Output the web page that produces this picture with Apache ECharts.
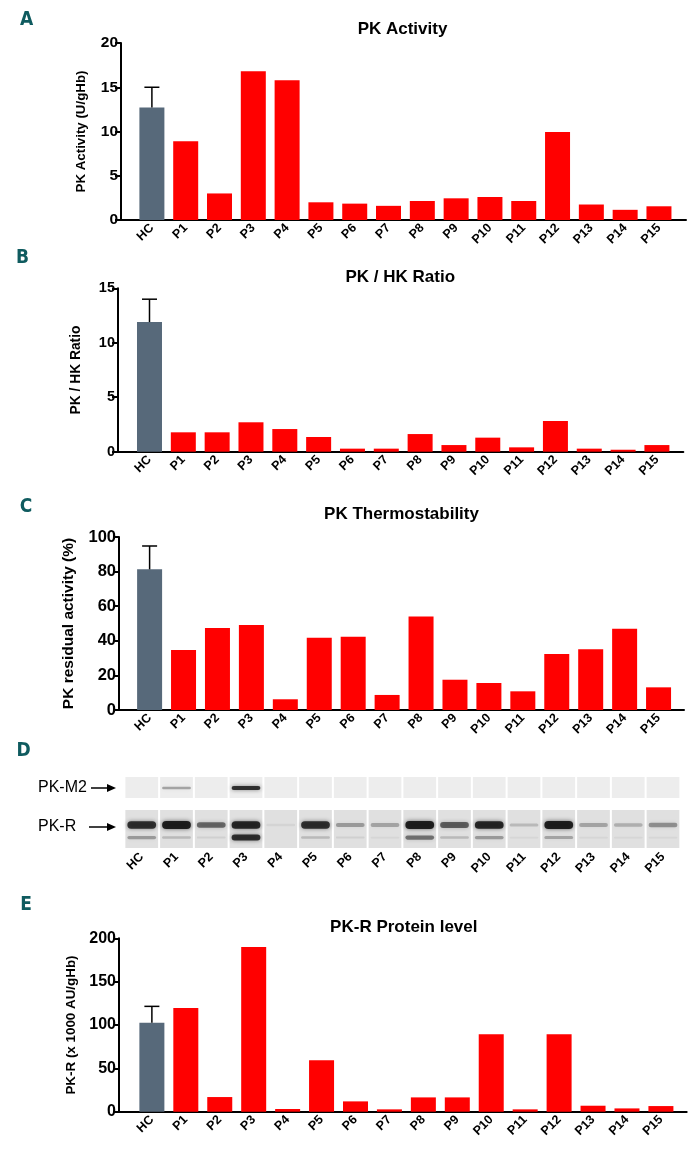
<!DOCTYPE html>
<html>
<head>
<meta charset="utf-8">
<script src="https://cdn.jsdelivr.net/npm/echarts@6.0.0/dist/echarts.min.js"></script>
<style>
html,body{margin:0;padding:0;background:#fff;}
#chart{width:698px;height:1151px;}
</style>
</head>
<body>
<div id="chart"></div>
<script>
// ---------------- DATA ----------------
const categories = ['HC','P1','P2','P3','P4','P5','P6','P7','P8','P9','P10','P11','P12','P13','P14','P15'];

const pkActivity   = [12.7, 8.9, 3.0, 16.8, 15.8, 2.0, 1.85, 1.6, 2.15, 2.45, 2.6, 2.15, 9.95, 1.75, 1.15, 1.55];
const pkActivityErr = 15.0;   // HC mean + SD

const pkHkRatio    = [11.9, 1.78, 1.78, 2.7, 2.08, 1.35, 0.28, 0.28, 1.62, 0.61, 1.29, 0.4, 2.82, 0.28, 0.18, 0.61];
const pkHkRatioErr = 14.0;

const thermo       = [81.3, 34.7, 47.4, 49.1, 6.2, 41.8, 42.4, 8.7, 54.0, 17.5, 15.6, 10.8, 32.4, 35.1, 47.0, 13.1];
const thermoErr    = 94.8;

const proteinLevel = [102.7, 119.6, 16.9, 190, 3.1, 59.2, 11.9, 2.7, 16.5, 16.5, 89.2, 2.7, 89.2, 6.9, 3.8, 6.5];
const proteinErr   = 121.5;

const ticksA = [0, 5, 10, 15, 20];
const ticksB = [0, 5, 10, 15];
const ticksC = [0, 20, 40, 60, 80, 100];
const ticksE = [0, 50, 100, 150, 200];

// western blot band intensities (0..1)
const blotM2    = [0, 0.35, 0, 0.9, 0, 0, 0, 0, 0, 0, 0, 0, 0, 0, 0, 0];
const blotRUp   = [0.9, 1.0, 0.6, 0.95, 0.06, 0.9, 0.35, 0.3, 1.0, 0.65, 0.95, 0.2, 1.0, 0.3, 0.25, 0.4];
const blotRLow  = [0.35, 0.2, 0.08, 0.9, 0, 0.2, 0.08, 0.05, 0.55, 0.2, 0.35, 0.05, 0.3, 0.05, 0.05, 0.05];

// ---------------- LAYOUT ----------------
const FONT = '"Liberation Sans", Arial, sans-serif';
const RED = '#ff0000';
const GREY = '#57697a';
const TEAL = '#0f5b5f';

const panels = [
  {values: pkActivity, err: pkActivityErr, ticks: ticksA, name: 'PK Activity (U/gHb)', title: 'PK Activity',
   left: 121, end: 686, top: 43, zero: 220, xMin: -0.914, xMax: 15.8, nameFs: 13.3, nameGap: 33, tickFs: 15.5,
   titleX: 402.5, titleY: 29},
  {values: pkHkRatio, err: pkHkRatioErr, ticks: ticksB, name: 'PK / HK Ratio', title: 'PK / HK Ratio',
   left: 118, end: 683.3, top: 288.3, zero: 451.7, xMin: -0.931, xMax: 15.78, nameFs: 13.8, nameGap: 35, tickFs: 14.5,
   titleX: 400.3, titleY: 277},
  {values: thermo, err: thermoErr, ticks: ticksC, name: 'PK residual activity (%)', title: 'PK Thermostability',
   left: 119, end: 684, top: 537, zero: 710, xMin: -0.902, xMax: 15.75, nameFs: 15.5, nameGap: 42, tickFs: 16.5,
   titleX: 401.5, titleY: 514},
  {values: proteinLevel, err: proteinErr, ticks: ticksE, name: 'PK-R (x 1000 AU/gHb)', title: 'PK-R Protein level',
   left: 119, end: 686.7, top: 938.3, zero: 1111.7, xMin: -0.969, xMax: 15.76, nameFs: 13.4, nameGap: 41, tickFs: 16,
   titleX: 403.8, titleY: 927}
];

const idx = categories.map((c, i) => i);
const grids = [], xAxes = [], yAxes = [], series = [];

panels.forEach((p, k) => {
  grids.push({left: p.left, top: p.top, width: p.end - p.left, height: p.zero - p.top, containLabel: false});
  xAxes.push({
    type: 'value', gridIndex: k, min: p.xMin, max: p.xMax,
    axisLine: {show: true, onZero: false, lineStyle: {color: '#000', width: 2}},
    axisTick: {show: false},
    splitLine: {show: false},
    axisLabel: {
      customValues: idx, rotate: 45, margin: 6, color: '#000', fontWeight: 'bold', fontSize: 12.5, fontFamily: FONT,
      formatter: v => categories[Math.round(v)]
    }
  });
  const step = p.ticks[1] - p.ticks[0];
  yAxes.push({
    type: 'value', gridIndex: k, min: p.ticks[0], max: p.ticks[p.ticks.length - 1], interval: step,
    name: p.name, nameLocation: 'middle', nameGap: p.nameGap, nameRotate: 90,
    nameTextStyle: {color: '#000', fontWeight: 'bold', fontSize: p.nameFs, fontFamily: FONT},
    axisLine: {show: true, onZero: false, lineStyle: {color: '#000', width: 2}},
    axisTick: {show: true, length: 6, lineStyle: {color: '#000', width: 2}},
    splitLine: {show: false},
    axisLabel: {color: '#000', fontWeight: 'bold', fontSize: p.tickFs, fontFamily: FONT, margin: 3}
  });
  series.push({
    type: 'bar', xAxisIndex: k, yAxisIndex: k, barWidth: 25, silent: true,
    data: p.values.map((v, i) => ({value: [i, v], itemStyle: {color: i === 0 ? GREY : RED}})),
    animation: false
  });
  series.push({
    type: 'custom', xAxisIndex: k, yAxisIndex: k, silent: true, animation: false, z: 5,
    data: [[0, p.values[0], p.err]],
    renderItem: (params, api) => {
      const a = api.coord([api.value(0), api.value(1)]);
      const b = api.coord([api.value(0), api.value(2)]);
      return {type: 'group', children: [
        {type: 'line', shape: {x1: a[0], y1: a[1], x2: b[0], y2: b[1]}, style: {stroke: '#000', lineWidth: 1.5}},
        {type: 'line', shape: {x1: b[0] - 7.5, y1: b[1], x2: b[0] + 7.5, y2: b[1]}, style: {stroke: '#000', lineWidth: 1.5}}
      ]};
    }
  });
});

// ---- blot panel (D) ----
const blotGrid = grids.length;
grids.push({left: 100, top: 777, width: 590, height: 71, containLabel: false});
xAxes.push({
  type: 'value', gridIndex: blotGrid, min: -1.2014, max: 15.777,
  axisLine: {show: false}, axisTick: {show: false}, splitLine: {show: false},
  axisLabel: {customValues: idx, rotate: 45, margin: 7, color: '#000', fontWeight: 'bold', fontSize: 12.5, fontFamily: FONT,
    formatter: v => categories[Math.round(v)]}
});
yAxes.push({type: 'value', gridIndex: blotGrid, min: 0, max: 71, inverse: true, show: false, splitLine: {show: false}});
series.push({
  type: 'custom', xAxisIndex: blotGrid, yAxisIndex: blotGrid, silent: true, animation: false,
  data: idx.map(i => [i, blotM2[i], blotRUp[i], blotRLow[i]]),
  renderItem: (params, api) => {
    const i = api.value(0);
    const cx = api.coord([i, 0])[0];
    const w = api.size([1, 0])[0] - 2;
    const y = v => api.coord([i, v])[1];
    const ch = [];
    ch.push({type: 'rect', shape: {x: cx - w / 2, y: y(0), width: w, height: y(21) - y(0)}, style: {fill: '#ededed'}});
    ch.push({type: 'rect', shape: {x: cx - w / 2, y: y(33), width: w, height: y(71) - y(33)}, style: {fill: '#e0e0e0'}});
    const band = (a, yc, h0, hk) => {
      if (a <= 0) return;
      const h = h0 + hk * a;
      ch.push({type: 'rect', shape: {x: cx - w / 2 + 2, y: y(yc) - h / 2, width: w - 4, height: h, r: h / 2},
        style: {fill: 'rgba(20,20,20,' + (a * 0.92) + ')', shadowBlur: 4, shadowColor: 'rgba(0,0,0,' + (a * 0.6) + ')'}});
    };
    band(api.value(1), 11, 1.5, 3);
    band(api.value(2), 48, 2, 6);
    band(api.value(3), 60.5, 1.5, 5);
    return {type: 'group', children: ch};
  }
});

// ---- texts ----
const graphic = [];
panels.forEach(p => {
  graphic.push({type: 'text', x: p.titleX, y: p.titleY, silent: true,
    style: {text: p.title, font: 'bold 17px ' + FONT, fill: '#000', align: 'center', verticalAlign: 'middle'}});
});
const letters = [['A', 26.5, 20], ['B', 22.5, 258], ['C', 26, 507], ['D', 23.5, 751], ['E', 26, 905]];
letters.forEach(l => graphic.push({type: 'text', x: l[1], y: l[2], silent: true,
  style: {text: l[0], font: 'bold 19px "DejaVu Sans Condensed", "Liberation Sans Narrow", sans-serif', fill: TEAL,
    align: 'center', verticalAlign: 'middle'}}));
// blot labels + arrows
[['PK-M2', 788], ['PK-R', 827]].forEach(t => {
  graphic.push({type: 'text', x: 38, y: t[1], silent: true,
    style: {text: t[0], font: '16px ' + FONT, fill: '#000', align: 'left', verticalAlign: 'middle'}});
  graphic.push({type: 'line', silent: true, shape: {x1: t[0] === 'PK-R' ? 89 : 91, y1: t[1], x2: 110, y2: t[1]},
    style: {stroke: '#000', lineWidth: 1.5}});
  graphic.push({type: 'polygon', silent: true, shape: {points: [[116, t[1]], [107, t[1] - 4], [107, t[1] + 4]]},
    style: {fill: '#000'}});
});

const chart = echarts.init(document.getElementById('chart'), null, {renderer: 'canvas', width: 698, height: 1151});
chart.setOption({
  backgroundColor: '#ffffff',
  animation: false,
  grid: grids,
  xAxis: xAxes,
  yAxis: yAxes,
  series: series,
  graphic: graphic
});
</script>
</body>
</html>
